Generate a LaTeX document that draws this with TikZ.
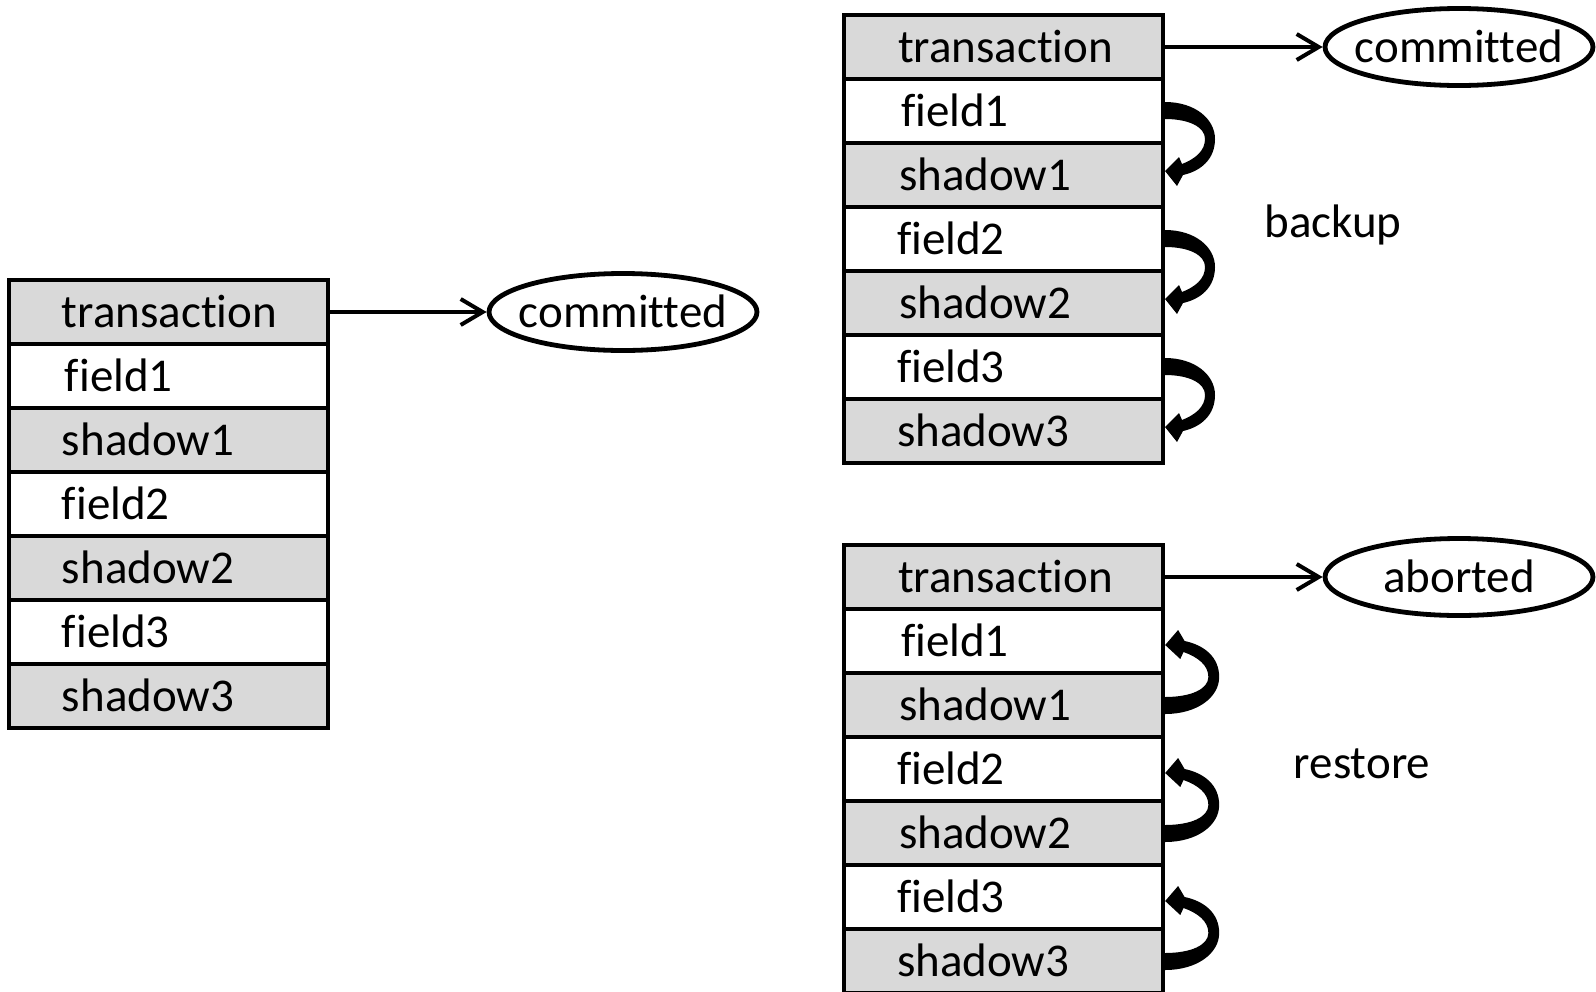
\documentclass[tikz,border=0pt]{standalone}
\usepackage{fontspec}
\setmainfont{Carlito}[Ligatures=CommonOff]
\usetikzlibrary{shapes.geometric,arrows.meta}
\definecolor{rowgray}{HTML}{D9D9D9}
\newcommand{\dfont}{\fontsize{23.5pt}{28pt}\selectfont}
% row text: fixed-width box, label set at a left inset (optional extra inset)
\newcommand{\rowtxt}[2][0pt]{\makebox[159.5pt][l]{\hspace*{26.5pt}\hspace*{#1}#2}}
\tikzset{
  rowbase/.style={rectangle, draw=black, line width=2pt, inner sep=0pt, outer sep=0pt,
    minimum width=159.5pt, minimum height=32pt, text height=15.5pt, text depth=0pt,
    font=\dfont, anchor=north},
  keyrow/.style={rowbase, fill=rowgray},
  fieldrow/.style={rowbase, fill=white},
  shadowrow/.style={rowbase, fill=rowgray},
  state/.style={ellipse, draw=black, line width=2.4pt, fill=white, inner sep=0pt,
    minimum width=134pt, minimum height=38.5pt, text height=15.5pt, text depth=0pt,
    font=\dfont},
  link/.style={line width=2pt, -{Straight Barb[length=11pt,width=13pt]}},
  lbl/.style={font=\dfont, anchor=base, inner sep=0pt},
  curl/.pic={
    \fill[black] (2,-41) .. controls (32,-41) and (52,-24) .. (52,-4)
      .. controls (52,16) and (38,28) .. (20,32)
      -- (14,43) -- (2,28) -- (16,14) -- (19,21)
      .. controls (32,16) and (42,8) .. (42,-4)
      .. controls (42,-16) and (26,-24) .. (2,-24) -- cycle;
  }
}
\begin{document}
\begin{tikzpicture}[x=0.5pt,y=-0.5pt]
\useasboundingbox (0,0) rectangle (1596,991);

% left record
\node[keyrow]    (L0) at (168.5,280) {\rowtxt{transaction}};
\node[fieldrow]  (L1) at (L0.south) {\rowtxt[1.5pt]{field1}};
\node[shadowrow] (L2) at (L1.south) {\rowtxt{shadow1}};
\node[fieldrow]  (L3) at (L2.south) {\rowtxt{field2}};
\node[shadowrow] (L4) at (L3.south) {\rowtxt{shadow2}};
\node[fieldrow]  (L5) at (L4.south) {\rowtxt{field3}};
\node[shadowrow] (L6) at (L5.south) {\rowtxt{shadow3}};
\node[state] (Lc) at (623,312) {\makebox[0pt]{committed}};
\draw[link] (L0.east) -- (Lc.west);

% upper right record: backup
\node[keyrow]    (A0) at (1003.5,15) {\rowtxt[0.5pt]{transaction}};
\node[fieldrow]  (A1) at (A0.south) {\rowtxt[2pt]{field1}};
\node[shadowrow] (A2) at (A1.south) {\rowtxt[1pt]{shadow1}};
\node[fieldrow]  (A3) at (A2.south) {\rowtxt{field2}};
\node[shadowrow] (A4) at (A3.south) {\rowtxt[1pt]{shadow2}};
\node[fieldrow]  (A5) at (A4.south) {\rowtxt{field3}};
\node[shadowrow] (A6) at (A5.south) {\rowtxt{shadow3}};
\node[state] (Ac) at (1459,47) {\makebox[0pt]{committed}};
\draw[link] (A0.east) -- (Ac.west);
\pic at (A1.south east) {curl};
\pic at (A3.south east) {curl};
\pic at (A5.south east) {curl};
\node[lbl] (Al) at (1333,237) {backup};

% lower right record: restore
\node[keyrow]    (B0) at (1003.5,545) {\rowtxt[0.5pt]{transaction}};
\node[fieldrow]  (B1) at (B0.south) {\rowtxt[2pt]{field1}};
\node[shadowrow] (B2) at (B1.south) {\rowtxt[1pt]{shadow1}};
\node[fieldrow]  (B3) at (B2.south) {\rowtxt{field2}};
\node[shadowrow] (B4) at (B3.south) {\rowtxt[1pt]{shadow2}};
\node[fieldrow]  (B5) at (B4.south) {\rowtxt{field3}};
\node[shadowrow] (B6) at (B5.south) {\rowtxt{shadow3}};
\node[state] (Bc) at (1459,577) {\makebox[0pt]{aborted}};
\draw[link] (B0.east) -- (Bc.west);
\pic[yscale=-1,xscale=1.08] at (B1.south east) {curl};
\pic[yscale=-1,xscale=1.08] at (B3.south east) {curl};
\pic[yscale=-1,xscale=1.08] at (B5.south east) {curl};
\node[lbl] (Bl) at (1362,778) {restore};
\end{tikzpicture}
\end{document}
